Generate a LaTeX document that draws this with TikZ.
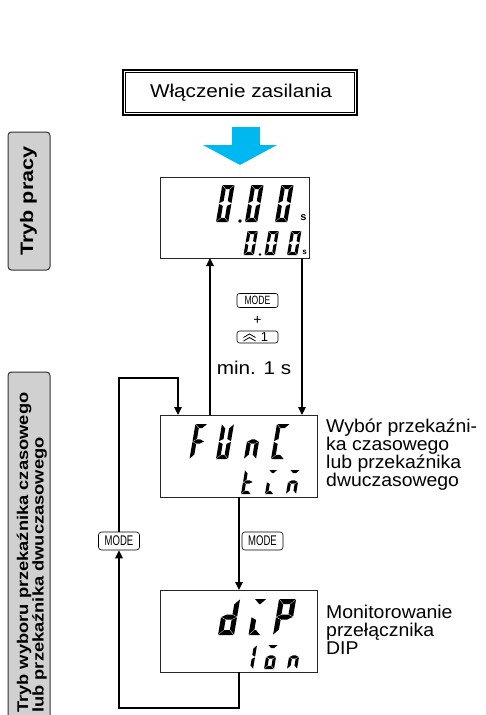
\documentclass[tikz,border=0pt]{standalone}
\usepackage{fontspec}
\setmainfont{Liberation Sans}
\usetikzlibrary{arrows.meta}

\definecolor{powblue}{HTML}{00B8F0}
\definecolor{labgray}{HTML}{D0D0D0}

\def\lS{0.17}
% mitred seven-segment pieces (local coordinates, y up), slanted by \lS
\newcommand\SA{\fill ({\lG+\lS*\lH},{\lH}) -- ({\lW-\lG+\lS*\lH},{\lH}) -- ({\lW-\lT-\lG+\lS*(\lH-\lT)},{\lH-\lT}) -- ({\lT+\lG+\lS*(\lH-\lT)},{\lH-\lT}) -- cycle;}
\newcommand\SB{\fill ({\lW+\lS*(\lH-\lG)},{\lH-\lG}) -- ({\lW+\lS*(\lM+\lG)},{\lM+\lG}) -- ({\lW-\lT+\lS*(\lM+\lt+\lG)},{\lM+\lt+\lG}) -- ({\lW-\lT+\lS*(\lH-\lT-\lG)},{\lH-\lT-\lG}) -- cycle;}
\newcommand\SC{\fill ({\lW+\lS*\lG},{\lG}) -- ({\lW+\lS*(\lM-\lG)},{\lM-\lG}) -- ({\lW-\lT+\lS*(\lM-\lt-\lG)},{\lM-\lt-\lG}) -- ({\lW-\lT+\lS*(\lT+\lG)},{\lT+\lG}) -- cycle;}
\newcommand\SD{\fill ({\lG},{0}) -- ({\lW-\lG},{0}) -- ({\lW-\lT-\lG+\lS*\lT},{\lT}) -- ({\lT+\lG+\lS*\lT},{\lT}) -- cycle;}
\newcommand\SE{\fill ({\lS*\lG},{\lG}) -- ({\lT+\lS*(\lT+\lG)},{\lT+\lG}) -- ({\lT+\lS*(\lM-\lt-\lG)},{\lM-\lt-\lG}) -- ({\lS*(\lM-\lG)},{\lM-\lG}) -- cycle;}
\newcommand\SF{\fill ({\lS*(\lH-\lG)},{\lH-\lG}) -- ({\lT+\lS*(\lH-\lT-\lG)},{\lH-\lT-\lG}) -- ({\lT+\lS*(\lM+\lt+\lG)},{\lM+\lt+\lG}) -- ({\lS*(\lM+\lG)},{\lM+\lG}) -- cycle;}
\newcommand\SG{\fill ({\lG+\lS*\lM},{\lM}) -- ({\lT+\lG+\lS*(\lM+\lt)},{\lM+\lt}) -- ({\lW-\lT-\lG+\lS*(\lM+\lt)},{\lM+\lt}) -- ({\lW-\lG+\lS*\lM},{\lM}) -- ({\lW-\lT-\lG+\lS*(\lM-\lt)},{\lM-\lt}) -- ({\lT+\lG+\lS*(\lM-\lt)},{\lM-\lt}) -- cycle;}
% #1 x, #2 y of bottom-left, #3 width, #4 height, #5 thickness, #6 segments
\newcommand\lcdchar[6]{%
  \begin{scope}[shift={(#1,#2)},yscale=-1]
    \pgfmathsetmacro\lW{#3}\pgfmathsetmacro\lH{#4}\pgfmathsetmacro\lM{#4/2}%
    \pgfmathsetmacro\lT{#5}\pgfmathsetmacro\lt{#5/2}\def\lG{0.4}%
    #6
  \end{scope}}

\tikzset{
  lcdbox/.style={draw=black!85, line width=0.8pt, inner sep=0pt, outer sep=0pt, anchor=north west},
  conn/.style={line width=1.4pt, -{Triangle[length=8pt,width=7.5pt]}},
  keysmall/.style={draw, rounded corners=2.5pt, line width=0.6pt, inner sep=0pt,
     minimum width=41pt, minimum height=14pt, font=\fontsize{12}{12}\selectfont},
  keybig/.style={draw, rounded corners=3pt, line width=0.6pt, inner sep=0pt,
     minimum width=41pt, minimum height=18pt, font=\fontsize{14}{14}\selectfont},
  bodytext/.style={font=\fontsize{18.5}{18}\selectfont, align=left, inner sep=0pt},
  sidelabel/.style={fill=labgray, draw=black!80, line width=1pt},
}

\begin{document}
\begin{tikzpicture}[x=1pt,y=-1pt]
\useasboundingbox (0,0) rectangle (485,715);

% left side labels
\node[sidelabel, rotate=90, rounded corners=3.5pt, minimum width=138pt, minimum height=42pt, inner sep=0pt] (lab1) at (29,201) {};
\node[rotate=90, font=\bfseries\fontsize{18}{18}\selectfont, xscale=1.2, inner sep=0pt] (lab1t) at ([xshift=-0.5]lab1.center) {Tryb pracy};
\draw[sidelabel, rounded corners=3.5pt] (8,725) -- (8,372) -- (50,372) -- (50,725);
\node[rotate=90, anchor=north west, align=left, inner sep=0pt, xscale=1.18,
      font=\bfseries\fontsize{15.5}{13.5}\selectfont] (lab2) at (16.5,713)
      {Tryb wyboru przekaźnika czasowego\\lub przekaźnika dwuczasowego};

% title
\node[draw, line width=1.5pt, minimum width=234pt, minimum height=45pt, inner sep=0pt] (title) at (240,92.5) {};
\draw[line width=0.8pt] ([shift={(3.5,3.5)}]title.north west) rectangle ([shift={(-3.5,-3.5)}]title.south east);
\node[font=\fontsize{18.5}{18}\selectfont, xscale=1.12, inner sep=0pt] (titlet) at (241,93) {Włączenie zasilania};

% blue power-on arrow
\fill[powblue] (232,127) -- (260,127) -- (260,145) -- (277,145) -- (240,165) -- (203,145) -- (232,145) -- cycle;

% displays
\node[lcdbox, minimum width=149pt, minimum height=81pt] (d1) at (160,177) {};
\node[lcdbox, minimum width=157pt, minimum height=82pt] (d2) at (160,415) {};
\node[lcdbox, minimum width=157pt, minimum height=82pt] (d3) at (160,590) {};

% display 1 : 0.00 s / 0.00 s
\lcdchar{216}{222}{12.3}{37}{4.1}{\SA\SB\SC\SD\SE\SF}
\lcdchar{245}{222}{12.3}{37}{4.1}{\SA\SB\SC\SD\SE\SF}
\lcdchar{275}{222}{12.3}{37}{4.1}{\SA\SB\SC\SD\SE\SF}
\fill (240,221) circle (1.9);
\node[font=\bfseries\fontsize{11}{11}\selectfont, inner sep=0pt] (s1) at (303.5,217.5) {s};
\lcdchar{243.5}{255}{10.3}{24}{3.1}{\SA\SB\SC\SD\SE\SF}
\lcdchar{264.5}{255}{10.3}{24}{3.1}{\SA\SB\SC\SD\SE\SF}
\lcdchar{287}{255}{10.3}{24}{3.1}{\SA\SB\SC\SD\SE\SF}
\fill (260,254.5) circle (1.4);
\node[font=\bfseries\fontsize{8}{8}\selectfont, inner sep=0pt] (s2) at (304.5,252) {s};

% display 2 : FUnC / t i m
\lcdchar{189.5}{459}{12}{35}{4.1}{\SA\SE\SF\SG}
\lcdchar{216}{459}{12}{35}{4.1}{\SB\SC\SD\SE\SF}
\lcdchar{244}{459}{12}{35}{4.1}{\SC\SE\SG}
\lcdchar{271}{459}{13}{35}{4.1}{\SA\SD\SE\SF}
\lcdchar{241}{494}{10}{24}{3.1}{\SD\SE\SF\SG}
\lcdchar{265}{494}{8.5}{24}{3.1}{\SA\SD\SE}
\lcdchar{286}{494}{10}{24}{3.1}{\SA\SC\SE\SG}

% display 3 : dIP / 1on
\lcdchar{218}{635}{16}{36}{5}{\SB\SC\SD\SE\SG}
\lcdchar{248.5}{635}{12}{36}{5}{\SA\SD\SE}
\lcdchar{273}{635}{17}{36}{5}{\SA\SB\SE\SF\SG}
\lcdchar{243}{669}{10}{24}{3.1}{\SB\SC}
\lcdchar{264}{669}{10}{24}{3.1}{\SA\SC\SD\SE\SG}
\lcdchar{287}{669}{10}{24}{3.1}{\SC\SE\SG}

% keys and texts between displays 1 and 2
\node[keysmall] (kmode) at (257.5,300.5) {\scalebox{0.72}[1]{MODE}};
\node[font=\fontsize{14}{14}\selectfont, inner sep=0pt] (plus) at (257.5,320) {+};
\node[keysmall, minimum height=12pt] (kup) at (257.5,337) {\hspace*{14pt}\fontsize{13}{13}\selectfont 1};
\draw[line width=0.8pt] ([shift={(-14,0.5)}]kup.center) -- ([shift={(-8,-3)}]kup.center) -- ([shift={(-2,0.5)}]kup.center);
\draw[line width=0.8pt] ([shift={(-14,4)}]kup.center) -- ([shift={(-8,0.5)}]kup.center) -- ([shift={(-2,4)}]kup.center);
\node[bodytext, xscale=1.12] (mint) at (254,368) {min. 1 s};

\node[keybig] (kL) at (119,541) {\scalebox{0.68}[1]{MODE}};
\node[keybig] (kR) at (262.5,541) {\scalebox{0.68}[1]{MODE}};

% side texts
\node[bodytext, anchor=west, xscale=1.05] (txt2) at (326,455) {Wybór przekaźni-\\ka czasowego\\lub przekaźnika\\dwuczasowego};
\node[bodytext, anchor=west, xscale=1.05] (txt3) at (326,630) {Monitorowanie\\przełącznika\\DIP};

% connectors
\coordinate (ux) at (210,0);
\coordinate (dx) at (302,0);
\coordinate (mx) at (239,0);
\coordinate (lx) at (178,0);
\coordinate (loopbl) at (119,708);
\coordinate (looptl) at (119,378);
\draw[conn] (d2.north -| ux) -- (d1.south -| ux);
\draw[conn] (d1.south -| dx) -- (d2.north -| dx);
\draw[conn] (d2.south -| mx) -- (d3.north -| mx);
\draw[conn] (d3.south -| mx) |- (loopbl) -- (kL.south);
\draw[conn] (kL.north) -- (looptl) -| (d2.north -| lx);
\end{tikzpicture}
\end{document}
